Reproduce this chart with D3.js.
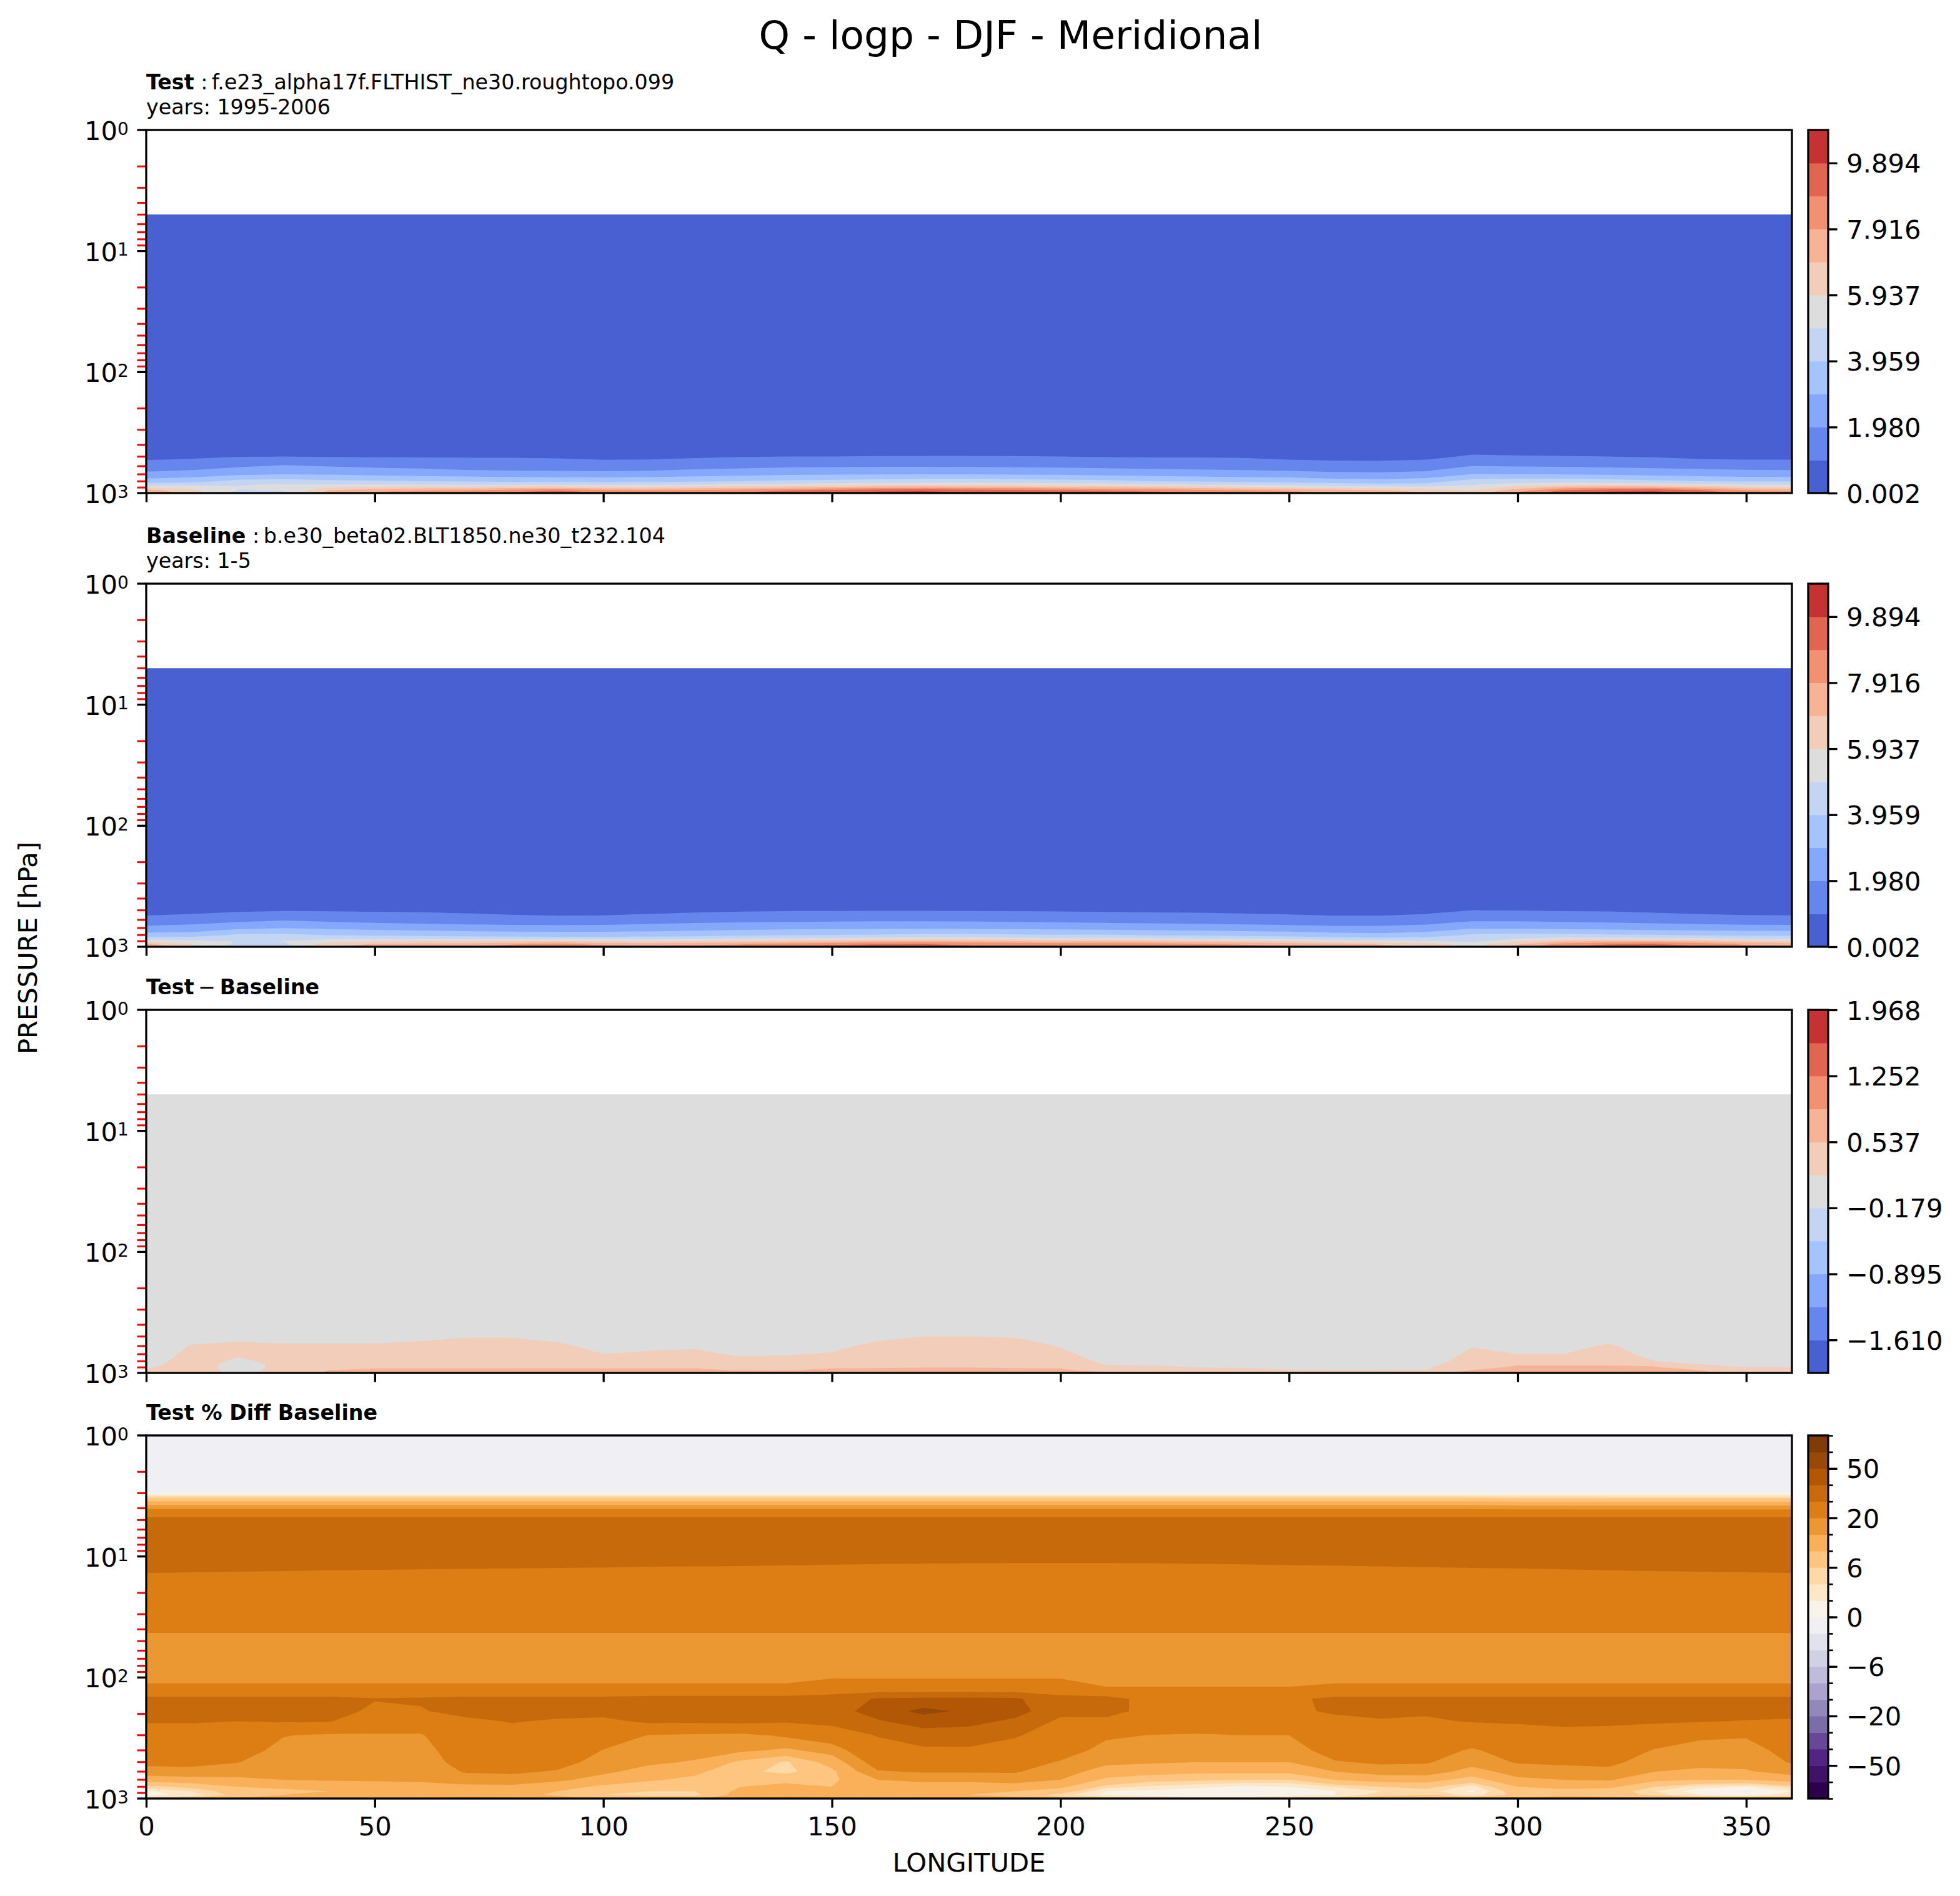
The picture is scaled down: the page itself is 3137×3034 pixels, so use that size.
<!DOCTYPE html>
<html>
<head>
<meta charset="utf-8">
<script src="https://cdn.jsdelivr.net/npm/d3@7"></script>
<style>
  body { margin: 0; background: #fff; }
  text { font-family: "DejaVu Sans", sans-serif; }
</style>
</head>
<body>
<svg id="fig" width="3137" height="3034"></svg>
<script>
// ---- data (longitude x pressure grids) ----
const lons = [0, 10, 20, 30, 40, 50, 60, 70, 80, 90, 100, 110, 120, 130, 140, 150, 160, 170, 180,
              190, 200, 210, 220, 230, 240, 250, 260, 270, 280, 290, 300, 310, 320, 330, 340, 350, 360];

// pressure rows (hPa) of the Q grids
const pressQ = [5, 400, 500, 600, 700, 800, 850, 900, 950, 1000];

// specific humidity, test case (g/kg)
const testQ = [
  [0.003,0.003,0.003,0.003,0.003,0.003,0.003,0.003,0.003,0.003,0.003,0.003,0.003,0.003,0.003,0.003,0.003,0.003,0.003,0.003,0.003,0.003,0.003,0.003,0.003,0.003,0.003,0.003,0.003,0.003,0.003,0.003,0.003,0.003,0.003,0.003,0.003],
  [0.45,0.45,0.46,0.47,0.46,0.45,0.45,0.45,0.45,0.44,0.43,0.43,0.44,0.46,0.47,0.47,0.48,0.48,0.48,0.47,0.47,0.46,0.45,0.45,0.44,0.42,0.41,0.41,0.42,0.48,0.47,0.47,0.46,0.45,0.43,0.42,0.42],
  [0.76,0.85,0.97,1.0,0.97,0.93,0.93,0.93,0.93,0.9,0.84,0.82,0.88,0.97,1.0,1.0,1.02,1.03,1.03,1.02,1.0,0.96,0.93,0.93,0.9,0.8,0.76,0.76,0.8,1.1,1.05,1.03,1.0,0.93,0.78,0.72,0.72],
  [1.4,1.5,1.85,2.1,1.95,1.8,1.7,1.5,1.42,1.38,1.3,1.4,1.6,1.72,1.83,1.87,1.9,1.9,1.88,1.83,1.8,1.72,1.65,1.6,1.55,1.4,1.32,1.3,1.4,2.0,1.95,1.9,1.82,1.75,1.65,1.6,1.6],
  [2.26,2.5,2.8,2.97,2.9,2.75,2.65,2.55,2.47,2.42,2.4,2.45,2.6,2.7,2.85,2.9,2.95,2.97,2.97,2.92,2.88,2.75,2.65,2.55,2.45,2.4,2.26,2.2,2.35,3.0,3.0,2.95,2.85,2.7,2.6,2.45,2.4],
  [3.45,3.6,4.3,4.4,4.2,4.1,4.0,3.9,3.8,3.75,3.7,3.75,3.85,4.0,4.15,4.25,4.35,4.5,4.5,4.4,4.3,4.2,4.0,3.9,3.75,3.65,3.4,3.3,3.5,4.4,4.55,4.5,4.4,4.2,4.0,3.9,3.9],
  [4.55,4.7,4.9,5.0,5.0,5.0,4.9,4.85,4.8,4.75,4.75,4.8,4.9,5.1,5.2,5.4,5.6,5.7,5.7,5.6,5.4,5.3,5.1,4.9,4.8,4.6,4.4,4.2,4.3,4.9,5.3,5.7,5.7,5.5,5.2,4.9,4.9],
  [5.8,5.6,5.0,5.2,5.9,6.3,6.5,6.4,6.6,6.7,6.4,6.3,6.5,6.7,6.9,7.3,7.6,7.7,7.6,7.5,7.3,7.1,6.9,6.6,6.3,6.0,5.6,5.4,5.3,5.2,6.4,7.4,7.7,7.7,7.2,6.5,6.2],
  [7.4,6.2,4.9,5.0,7.0,7.6,7.8,7.9,8.4,8.8,8.2,8.0,8.2,8.4,8.8,9.2,9.5,9.6,9.4,9.2,9.0,8.8,8.6,8.3,8.0,7.7,7.4,7.0,6.6,6.0,7.5,9.0,9.5,9.6,9.0,8.0,7.7],
  [8.2,6.4,4.5,4.4,7.5,8.2,8.4,8.6,9.2,9.9,9.0,8.7,9.0,9.1,9.6,10.1,10.3,10.4,10.1,9.8,9.6,9.4,9.3,9.0,8.7,8.4,8.0,7.6,7.0,6.2,8.2,9.8,10.3,10.4,9.7,8.6,8.3]
];

// specific humidity, baseline case (g/kg)
const baseQ = [
  [0.003,0.003,0.003,0.003,0.003,0.003,0.003,0.003,0.003,0.003,0.003,0.003,0.003,0.003,0.003,0.003,0.003,0.003,0.003,0.003,0.003,0.003,0.003,0.003,0.003,0.003,0.003,0.003,0.003,0.003,0.003,0.003,0.003,0.003,0.003,0.003,0.003],
  [0.42,0.42,0.43,0.44,0.44,0.43,0.43,0.42,0.41,0.4,0.4,0.41,0.42,0.43,0.44,0.44,0.44,0.44,0.44,0.44,0.43,0.43,0.42,0.42,0.41,0.4,0.39,0.39,0.41,0.45,0.44,0.44,0.43,0.42,0.4,0.39,0.39],
  [0.68,0.75,0.85,0.93,0.91,0.89,0.86,0.8,0.72,0.66,0.66,0.72,0.8,0.88,0.93,0.93,0.94,0.94,0.93,0.93,0.9,0.87,0.84,0.82,0.77,0.72,0.66,0.66,0.75,1.0,0.97,0.93,0.9,0.8,0.7,0.65,0.64],
  [1.25,1.4,1.7,1.9,1.75,1.6,1.5,1.4,1.32,1.26,1.3,1.45,1.6,1.68,1.72,1.78,1.8,1.8,1.78,1.72,1.67,1.6,1.55,1.5,1.45,1.35,1.26,1.25,1.4,1.8,1.8,1.72,1.65,1.55,1.45,1.35,1.3],
  [2.26,2.45,2.75,2.95,2.8,2.65,2.55,2.45,2.4,2.4,2.42,2.5,2.6,2.68,2.74,2.78,2.8,2.82,2.8,2.76,2.7,2.62,2.55,2.5,2.42,2.35,2.26,2.24,2.4,2.85,2.82,2.75,2.65,2.55,2.48,2.42,2.4],
  [3.34,3.35,4.15,4.18,3.93,3.8,3.7,3.6,3.5,3.45,3.45,3.48,3.58,3.78,3.92,3.99,4.03,4.16,4.16,4.07,4.02,4.06,3.87,3.79,3.65,3.56,3.32,3.22,3.42,4.12,4.25,4.2,4.08,4.02,3.86,3.78,3.78],
  [4.42,4.44,4.78,4.78,4.7,4.64,4.54,4.49,4.44,4.39,4.4,4.45,4.55,4.8,4.9,5.04,5.22,5.3,5.3,5.22,5.05,5.13,4.94,4.76,4.67,4.48,4.29,4.09,4.19,4.57,4.8,5.2,5.2,5.05,5.02,4.74,4.74],
  [5.64,5.32,4.9,4.97,5.52,5.8,6.0,5.9,6.1,6.2,5.9,5.8,6.0,6.3,6.5,6.8,7.1,7.18,7.08,7.0,6.8,6.88,6.7,6.42,6.14,5.86,5.47,5.27,5.16,4.78,5.8,6.8,7.1,7.12,6.9,6.32,6.02],
  [7.2,5.9,4.8,4.75,6.46,7.0,7.2,7.3,7.78,8.18,7.6,7.4,7.58,7.88,8.28,8.58,8.85,8.9,8.7,8.55,8.4,8.4,8.3,8.02,7.75,7.51,7.22,6.82,6.41,5.45,6.8,8.3,8.8,8.95,8.45,7.75,7.45],
  [7.92,6.05,4.4,4.1,6.9,7.55,7.75,7.9,8.45,9.0,8.3,8.0,8.2,8.2,8.95,9.35,9.4,9.45,9.15,8.9,8.75,8.8,8.9,8.65,8.4,8.1,7.7,7.25,6.65,5.5,7.35,8.9,9.5,9.65,9.1,8.2,8.0]
];

// test minus baseline (g/kg)
const diffQ = [
  [0.01,0.01,0.01,0.01,0.01,0.01,0.01,0.01,0.01,0.01,0.01,0.01,0.01,0.01,0.01,0.01,0.01,0.01,0.01,0.01,0.01,0.01,0.01,0.01,0.01,0.01,0.01,0.01,0.01,0.01,0.01,0.01,0.01,0.01,0.01,0.01,0.01],
  [0.03,0.05,0.06,0.05,0.05,0.05,0.06,0.08,0.08,0.06,0.04,0.04,0.05,0.03,0.03,0.04,0.07,0.09,0.09,0.08,0.05,0.02,0.02,0.02,0.02,0.01,0.01,0.01,0.01,0.05,0.03,0.03,0.06,0.02,0.02,0.02,0.02],
  [0.05,0.12,0.14,0.12,0.12,0.12,0.14,0.17,0.17,0.13,0.08,0.09,0.10,0.06,0.07,0.08,0.14,0.18,0.18,0.17,0.10,0.04,0.03,0.03,0.03,0.02,0.02,0.02,0.02,0.10,0.07,0.07,0.12,0.05,0.04,0.03,0.03],
  [0.07,0.19,0.21,0.20,0.20,0.20,0.22,0.24,0.24,0.21,0.13,0.15,0.16,0.11,0.12,0.14,0.22,0.26,0.27,0.25,0.17,0.07,0.06,0.05,0.05,0.04,0.04,0.04,0.04,0.17,0.13,0.13,0.20,0.09,0.07,0.06,0.06],
  [0.09,0.22,0.20,0.21,0.24,0.25,0.26,0.27,0.27,0.25,0.18,0.20,0.21,0.16,0.17,0.19,0.27,0.30,0.31,0.30,0.22,0.10,0.09,0.08,0.07,0.06,0.06,0.06,0.06,0.22,0.18,0.18,0.24,0.13,0.10,0.09,0.09],
  [0.11,0.25,0.15,0.22,0.27,0.30,0.30,0.30,0.30,0.30,0.25,0.27,0.27,0.22,0.23,0.26,0.32,0.34,0.34,0.33,0.28,0.14,0.13,0.11,0.10,0.09,0.08,0.08,0.08,0.28,0.30,0.30,0.32,0.18,0.14,0.12,0.12],
  [0.13,0.26,0.12,0.22,0.30,0.36,0.36,0.36,0.36,0.36,0.35,0.35,0.35,0.30,0.30,0.36,0.38,0.40,0.40,0.38,0.35,0.17,0.16,0.14,0.13,0.12,0.11,0.11,0.11,0.33,0.50,0.50,0.50,0.45,0.18,0.16,0.16],
  [0.16,0.28,0.10,0.23,0.38,0.50,0.50,0.50,0.50,0.50,0.50,0.50,0.50,0.40,0.40,0.50,0.50,0.52,0.52,0.50,0.50,0.22,0.20,0.18,0.16,0.14,0.13,0.13,0.14,0.42,0.60,0.60,0.60,0.58,0.30,0.18,0.18],
  [0.20,0.30,0.10,0.25,0.54,0.60,0.60,0.60,0.62,0.62,0.60,0.60,0.62,0.52,0.52,0.62,0.65,0.70,0.70,0.65,0.60,0.40,0.30,0.28,0.25,0.19,0.18,0.18,0.19,0.55,0.70,0.70,0.70,0.65,0.55,0.25,0.25],
  [0.28,0.35,0.10,0.30,0.60,0.65,0.65,0.70,0.75,0.90,0.70,0.70,0.80,0.90,0.65,0.75,0.90,0.95,0.95,0.90,0.85,0.60,0.40,0.35,0.30,0.30,0.30,0.35,0.35,0.70,0.85,0.90,0.80,0.75,0.60,0.40,0.30]
];

// pressure rows (hPa) of the percent-difference grid
const pressPct = [1, 2.95, 3.4, 4.0, 4.8, 8, 13, 20, 40, 60, 100, 125, 150, 190, 230, 300, 400, 500, 600, 700, 800, 870, 930, 970, 1000];

// test % diff baseline
const pctQ = [
  [-1,-1,-1,-1,-1,-1,-1,-1,-1,-1,-1,-1,-1,-1,-1,-1,-1,-1,-1,-1,-1,-1,-1,-1,-1,-1,-1,-1,-1,-1,-1,-1,-1,-1,-1,-1,-1],
  [-0.4,-0.4,-0.4,-0.4,-0.4,-0.4,-0.4,-0.4,-0.4,-0.4,-0.4,-0.4,-0.4,-0.4,-0.4,-0.4,-0.4,-0.4,-0.4,-0.4,-0.4,-0.4,-0.4,-0.4,-0.4,-0.4,-0.4,-0.4,-0.4,-0.4,-0.4,-0.4,-0.4,-0.4,-0.4,-0.4,-0.4],
  [8,8,8,8,8,8,8,8,8,8,8,8,8,8,8,8,8,8,8,8,8,8,8,8,8,8,8,8,8,8,7.6,7.6,7.5,7.5,7.5,7.5,7.5],
  [19,19,19,19,19,19,19,19,19,19,19,19,19,19,19,19,19,19,19,19,19,19,19,19,19,19,19,19,19,19,18.6,18.6,18.5,18.5,18.5,18.5,18.5],
  [31,31,31,31,31,31,31,31,31,31,31,31,31,31,31,31,31,31,31,31,31,31,31,31,31,31,31,31,31,31,31,31,31,31,31,31,31],
  [35,35,35,35,35,35,35,35,35,35,35,35,35,35,35,35,35,35,35,35,35,35,35,35,35,35,35,35,35,35,35,35,35,35,35,35,35],
  [30.4,30.3,30.2,30.1,30.0,29.9,29.8,29.7,29.6,29.5,29.4,29.2,29.1,29.0,28.8,28.6,28.4,28.2,28.1,28.0,28.0,28.0,28.1,28.3,28.5,28.7,28.9,29.1,29.3,29.5,29.6,29.8,30.0,30.1,30.2,30.3,30.4],
  [27,27,27,27,27,27,27,27,27,27,27,26.5,26.5,26.5,26.5,26.5,26.5,26.5,26.5,26.5,26.5,26.5,26.5,26.5,26.5,26.5,27,27,27,27,27,27,27,27,27,27,27],
  [20.4,20.4,20.4,20.4,20.4,20.4,20.4,20.4,20.4,20.4,20.4,20.4,20.4,20.4,20.4,20.4,20.4,20.4,20.4,20.4,20.4,20.4,20.4,20.4,20.4,20.4,20.4,20.4,20.4,20.4,20.4,20.4,20.4,20.4,20.4,20.4,20.4],
  [18,18,18,18,18,18,18,18,18,18,18,18,18,18,18,18,18,18,18,18,18,18,18,18,18,18,18,18,18,18,18,18,18,18,18,18,18],
  [17,17,17,17,17,17,17,17,17,17,17,17,17,17,17,19.5,19.5,19.5,19.5,19.5,19.5,16,16,16,16,16,17,17,17,17,17,17,17,17,17,17,17],
  [23,23,23,23,23,23,23,23,23,23,23,23,23,23,23,25,25,25,25,25,25,21,21,21,21,21,23,23,23,23,23,23,23,23,23,23,23],
  [32,32,32,32,32,30.5,31,32,32,32,32,33,33,33,33,34,41,42,42,41.5,33,33,27,26.5,27,28,32,32,32,32,32,32,32,32,32,32,32],
  [34,34,34,34,34,28,29.3,33,34,33,33,34,34,34,34,36,44,53,48,44,33,33,27,26.5,27,28.5,31,33,31,34,34,34,34,34,34,33.5,33],
  [30.5,30.5,30,30.8,30.5,24,24,28,30.5,29,28,31.5,31.5,32,31,33,39,44,43,38,28,28,25,24,24.5,25,28,29,29,30.5,31,32,31.5,31,30.5,29.5,29],
  [27,27,26,20.3,19,19.5,19.5,25,27,26,23,19.8,19,18.5,21,24,30.5,36,35,31,25,21,19.8,19.5,20,20,25,26,24,23,26,27,27,25,21,20.5,24],
  [24,24,23,18,17.5,17.5,18,23.5,28,24,19.8,18,17,16,14,17,26,28,28.5,26,23,18,17.5,17,17,17,23,24,22,19.5,22,24,24.5,19.5,18,18,22],
  [21.5,21.5,20.2,17,17,17,17,22.5,25,22,18,16,14.5,9,5.5,12,23,24,24,23,19.5,16,15.5,15,15,15,19.5,21,20.5,17,20.5,21,21.5,17,16.5,16.5,20.5],
  [18,18.5,17,16,16.5,16.5,16.5,20.5,21,19.5,16,13,11,7,5,9,19.5,20.5,20.5,20.5,17,13,12,11,11,11,15,17,17.5,13,17,18,18.5,15,14,14.5,17],
  [12,13,14,15,15.5,15.5,15.5,17,17.5,16,13,10.5,9,8,9,9,15,16,16,17,15,9,7,6.5,6,6,10,12,12,8,14,15,15.5,11,10,10,12],
  [5,7,10,11,12,13,14,14,14,12,9,8,7,10,11,10,12,13,13,13,11,5,3.5,2.5,1.5,2,4,6,7,3,10,11,11,6,3,2,5],
  [1.5,4,8,9,10,12,13,12,12,10,7,6,6,11,12,11,10,11,11,10,8,2,1.5,0.8,-0.5,0.5,2,4,5,1.5,8,9,8,4,0.5,-0.5,2],
  [1.0,3,7,10,11,12,12,13,12,9,6,5,5,12,13,12,10,10,10,8,5,1.5,1.0,0.5,0.5,1,2,5,6,3,7,9,8,5,2,1,3],
  [3,5,9,12,13,13,14,15,14,11,8,7,7,14,15,14,12,13,13,10,6,4,3,2,2,3,4,7,9,6,9,11,10,8,6,5,6],
  [8,9,12,14,15,15,16,17,16,14,12,11,11,17,18,18,16,18,18,15,12,12,10,9,8,9,10,12,14,14,14,15,14,13,12,11,11]
];

// contour levels and colorbar labels
const qLevels = [0.002, 0.9912, 1.9804, 2.9696, 3.9588, 4.948, 5.9372, 6.9264, 7.9156, 8.9048, 9.894, 10.8832];
const qTickIdx = [0, 2, 4, 6, 8, 10];
const diffLevels = [-1.9682, -1.6103, -1.2524, -0.8946, -0.5368, -0.1789, 0.1789, 0.5368, 0.8946, 1.2524, 1.6103, 1.9682];
const diffTickIdx = [1, 3, 5, 7, 9, 11];
const pctLevels = [-100, -75, -50, -40, -30, -20, -15, -10, -6, -4, -2, 0, 2, 4, 6, 10, 15, 20, 30, 40, 50, 75, 100];
const pctTickIdx = [2, 5, 8, 11, 14, 17, 20];
const xTicks = [0, 50, 100, 150, 200, 250, 300, 350];

// colour maps
const coolwarmBands = ["#4860d1", "#6686ed", "#85a8fc", "#a5c3ff", "#c3d5f3", "#dddddd",
                       "#f1cdba", "#f7b396", "#f29172", "#e16651", "#c53233"];
const puorStops = ["#2d004b", "#542788", "#8073ac", "#b2abd2", "#d8daeb", "#f7f7f7",
                   "#fee0b6", "#fdb863", "#e08214", "#b35806", "#7f3b08"];
const puorR = d3.piecewise(d3.interpolateRgb, puorStops);
const pctBands = pctLevels.slice(1).map((d, i) => puorR(i / (pctLevels.length - 2)));

// ---- layout ----
const axL = 234, axR = 2868, panelH = 581;
const panelTops = [208, 934, 1616, 2297];
const cbX = 2894, cbW = 32;
const tickFs = 41.7, lw = 3.3, tickLen = 14.6;

const svg = d3.select("#fig");
const x = d3.scaleLinear().domain([0, 360]).range([axL, axR]);

// map contour grid coords back to (lon, p) and then to pixels
function lerpCoord(arr, c) {
  const u = Math.max(0, Math.min(arr.length - 1, c - 0.5));
  const i = Math.min(Math.floor(u), arr.length - 2);
  return arr[i] + (u - i) * (arr[i + 1] - arr[i]);
}

function drawPanel(idx, grid, press, levels, colors) {
  const top = panelTops[idx];
  const y = d3.scaleLog().domain([1, 1000]).range([top, top + panelH]);
  const g = svg.append("g");

  g.append("clipPath").attr("id", "clip" + idx)
    .append("rect").attr("x", axL).attr("y", top).attr("width", axR - axL).attr("height", panelH);

  const values = grid.flat();
  const vmin = d3.min(values);
  let k0 = 0;
  levels.forEach((t, i) => { if (t <= vmin && i < colors.length) k0 = i; });
  const thr = levels.slice(k0, colors.length);
  const logp = press.map(Math.log10);

  const path = d3.geoPath(d3.geoTransform({
    point(cx, cy) {
      this.stream.point(x(lerpCoord(lons, cx)), y(Math.pow(10, lerpCoord(logp, cy))));
    }
  }));

  const contours = d3.contours().size([lons.length, press.length]).thresholds(thr)(values);
  g.append("g").attr("clip-path", `url(#clip${idx})`)
    .selectAll("path").data(contours).join("path")
    .attr("d", path)
    .attr("fill", (d, i) => colors[k0 + i]);

  // x ticks
  const xa = g.append("g").attr("transform", `translate(0,${top + panelH})`)
    .call(d3.axisBottom(x).tickValues(xTicks).tickSize(tickLen).tickPadding(tickLen)
      .tickFormat(idx === 3 ? d3.format("d") : ""));
  xa.select(".domain").remove();
  xa.selectAll("line").attr("stroke", "#000").attr("stroke-width", lw);
  xa.selectAll("text").attr("font-size", tickFs).attr("fill", "#000")
    .attr("font-family", "DejaVu Sans");

  // y ticks: red minor, black major with 10^n labels
  const allTicks = y.ticks();
  const majors = allTicks.filter(p => Math.abs(Math.log10(p) - Math.round(Math.log10(p))) < 1e-9);
  const minors = allTicks.filter(p => !majors.includes(p));
  g.append("g").selectAll("line").data(minors).join("line")
    .attr("x1", axL - tickLen).attr("x2", axL)
    .attr("y1", d => y(d)).attr("y2", d => y(d))
    .attr("stroke", "#ff0000").attr("stroke-width", 3);
  g.append("g").selectAll("line").data(majors).join("line")
    .attr("x1", axL - tickLen).attr("x2", axL)
    .attr("y1", d => y(d)).attr("y2", d => y(d))
    .attr("stroke", "#000").attr("stroke-width", lw);
  const lab = g.append("g").selectAll("text").data(majors).join("text")
    .attr("x", axL - 2 * tickLen + 1).attr("y", d => y(d) + 16)
    .attr("text-anchor", "end").attr("font-size", tickFs);
  lab.append("tspan").text("10");
  lab.append("tspan").attr("font-size", 28).attr("dy", -8.5)
    .text(d => Math.round(Math.log10(d)));

  // spines
  g.append("rect").attr("x", axL).attr("y", top).attr("width", axR - axL).attr("height", panelH)
    .attr("fill", "none").attr("stroke", "#000").attr("stroke-width", lw);

  return g;
}

function drawColorbar(idx, levels, colors, tickIdx, fmt, minorAll) {
  const top = panelTops[idx];
  const n = colors.length;
  const cy = d3.scaleLinear().domain([0, n]).range([top + panelH, top]);
  const g = svg.append("g");
  g.selectAll("rect").data(colors).join("rect")
    .attr("x", cbX).attr("width", cbW)
    .attr("y", (c, i) => cy(i + 1)).attr("height", (c, i) => cy(i) - cy(i + 1) + 0.6)
    .attr("fill", c => c);
  if (minorAll) {
    const mi = g.append("g").attr("transform", `translate(${cbX + cbW},0)`)
      .call(d3.axisRight(cy).tickValues(d3.range(n + 1)).tickSize(7.7).tickFormat(""));
    mi.select(".domain").remove();
    mi.selectAll("line").attr("stroke", "#000").attr("stroke-width", lw * 0.8);
  }
  const ax = g.append("g").attr("transform", `translate(${cbX + cbW},0)`)
    .call(d3.axisRight(cy).tickValues(tickIdx).tickSize(tickLen).tickPadding(tickLen)
      .tickFormat(i => fmt(levels[i])));
  ax.select(".domain").remove();
  ax.selectAll("line").attr("stroke", "#000").attr("stroke-width", lw);
  ax.selectAll("text").attr("font-size", tickFs).attr("fill", "#000")
    .attr("font-family", "DejaVu Sans").attr("dy", "0.36em");
  g.append("rect").attr("x", cbX).attr("y", top).attr("width", cbW).attr("height", panelH)
    .attr("fill", "none").attr("stroke", "#000").attr("stroke-width", lw);
}

drawPanel(0, testQ, pressQ, qLevels, coolwarmBands);
drawPanel(1, baseQ, pressQ, qLevels, coolwarmBands);
drawPanel(2, diffQ, pressQ, diffLevels, coolwarmBands);
drawPanel(3, pctQ, pressPct, pctLevels, pctBands);

const f3 = d3.format(".3f");
drawColorbar(0, qLevels, coolwarmBands, qTickIdx, f3, false);
drawColorbar(1, qLevels, coolwarmBands, qTickIdx, f3, false);
drawColorbar(2, diffLevels, coolwarmBands, diffTickIdx, f3, false);
drawColorbar(3, pctLevels, pctBands, pctTickIdx, d3.format("d"), true);

// ---- titles and labels ----
svg.append("text").attr("x", 1617.5).attr("y", 77.5).attr("text-anchor", "middle")
  .attr("font-size", 63).text("Q - logp - DJF - Meridional");

function caseTitle(idx, label, name, years) {
  const top = panelTops[idx];
  const t = svg.append("text").attr("x", axL).attr("y", top - 65).attr("font-size", 33.3);
  t.append("tspan").attr("font-weight", "bold").text(label);
  t.append("tspan").text(" :\u2009" + name);
  svg.append("text").attr("x", axL).attr("y", top - 25).attr("font-size", 33.3).text(years);
}
caseTitle(0, "Test", "f.e23_alpha17f.FLTHIST_ne30.roughtopo.099", "years: 1995-2006");
caseTitle(1, "Baseline", "b.e30_beta02.BLT1850.ne30_t232.104", "years: 1-5");

const t3 = svg.append("text").attr("x", axL).attr("y", panelTops[2] - 25).attr("font-size", 33.3);
t3.append("tspan").attr("font-weight", "bold").text("Test");
t3.append("tspan").text("\u2009\u2212\u2009");
t3.append("tspan").attr("font-weight", "bold").text("Baseline");

svg.append("text").attr("x", axL).attr("y", panelTops[3] - 25).attr("font-size", 33.3)
  .attr("font-weight", "bold").text("Test % Diff Baseline");

svg.append("text").attr("x", (axL + axR) / 2).attr("y", 2995).attr("text-anchor", "middle")
  .attr("font-size", tickFs).text("LONGITUDE");

svg.append("text").attr("transform", "translate(59,1517) rotate(-90)")
  .attr("text-anchor", "middle").attr("font-size", tickFs).text("PRESSURE [hPa]");
</script>
</body>
</html>
